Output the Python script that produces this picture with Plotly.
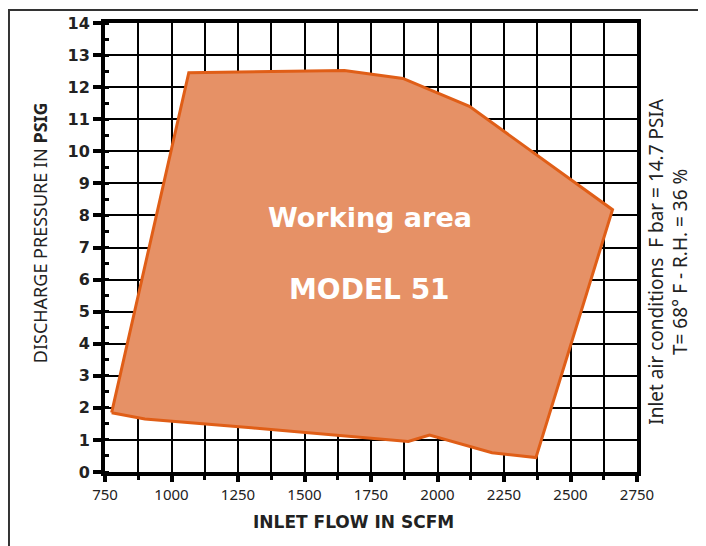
import plotly.graph_objects as go

# Working-area envelope (inlet flow SCFM, discharge pressure PSIG)
flow = [775, 900, 1300, 1890, 1970, 2205, 2370, 2658, 2120, 1870, 1650, 1065, 775]
pressure = [1.85, 1.65, 1.38, 0.95, 1.15, 0.6, 0.45, 8.18, 11.4, 12.27, 12.52, 12.45, 1.85]

x_ticks = [750, 1000, 1250, 1500, 1750, 2000, 2250, 2500, 2750]
y_ticks = list(range(0, 15))

fig = go.Figure()
fig.add_trace(go.Scatter(
    x=flow, y=pressure, mode="lines", fill="toself",
    fillcolor="#E69166", line=dict(color="#E05E17", width=3),
    hoverinfo="skip", showlegend=False,
))

fig.add_annotation(x=1745, y=7.95, text="<b>Working area</b>", showarrow=False,
                   font=dict(family="DejaVu Sans", size=27, color="white"))
fig.add_annotation(x=1745, y=5.7, text="<b>MODEL 51</b>", showarrow=False,
                   font=dict(family="DejaVu Sans", size=28, color="white"))

# outer frame
fig.add_shape(type="rect", xref="paper", yref="paper",
              x0=-0.1805, x1=1.2, y0=-0.2, y1=1.029,
              line=dict(color="#333333", width=2), layer="below")

fig.update_xaxes(
    range=[750, 2750], tickvals=x_ticks, ticktext=[str(v) for v in x_ticks],
    showgrid=True, gridcolor="black", gridwidth=2,
    showline=True, linecolor="black", linewidth=4, mirror=True,
    ticks="outside", ticklen=6, tickwidth=4, tickcolor="black",
    minor=dict(dtick=125, tick0=750, showgrid=True, gridcolor="black", gridwidth=2,
               ticks="outside", ticklen=4, tickwidth=3, tickcolor="black"),
    tickfont=dict(family="Noto Sans", size=15, color="#222"),
    zeroline=False, automargin=False,
)
fig.update_yaxes(
    range=[0, 14], tickvals=y_ticks, ticktext=[f"<b>{v}</b>" for v in y_ticks],
    showgrid=True, gridcolor="black", gridwidth=2,
    showline=True, linecolor="black", linewidth=4, mirror=True,
    ticks="outside", ticklen=8, tickwidth=4, tickcolor="black",
    minor=dict(dtick=0.5, tick0=0, showgrid=False,
               ticks="inside", ticklen=4, tickwidth=3, tickcolor="black"),
    tickfont=dict(family="DejaVu Sans", size=16, color="#222"),
    zeroline=False, automargin=False,
)

# axis titles
fig.add_annotation(xref="paper", yref="paper", x=0.468, y=-0.112, yanchor="middle",
                   text="<b>INLET FLOW IN SCFM</b>", showarrow=False,
                   font=dict(family="DejaVu Sans", size=17, color="#222"))
fig.add_annotation(xref="paper", yref="paper", x=-0.122, y=0.532, xanchor="center",
                   text="DISCHARGE PRESSURE IN <b>PSIG</b>", textangle=-90, showarrow=False,
                   font=dict(family="Noto Sans", size=18, color="#222"))

fig.add_annotation(xref="paper", yref="paper", x=1.008, y=0.47, xanchor="left",
                   text="Inlet air conditions  F bar = 14.7 PSIA<br>T= 68° F - R.H. = 36 %",
                   textangle=-90, showarrow=False, align="center",
                   font=dict(family="Noto Sans", size=19, color="#222"))

fig.update_layout(
    width=706, height=546,
    margin=dict(l=97, r=77, t=15, b=82),
    paper_bgcolor="white", plot_bgcolor="white",
)

fig.write_html("out.html")
